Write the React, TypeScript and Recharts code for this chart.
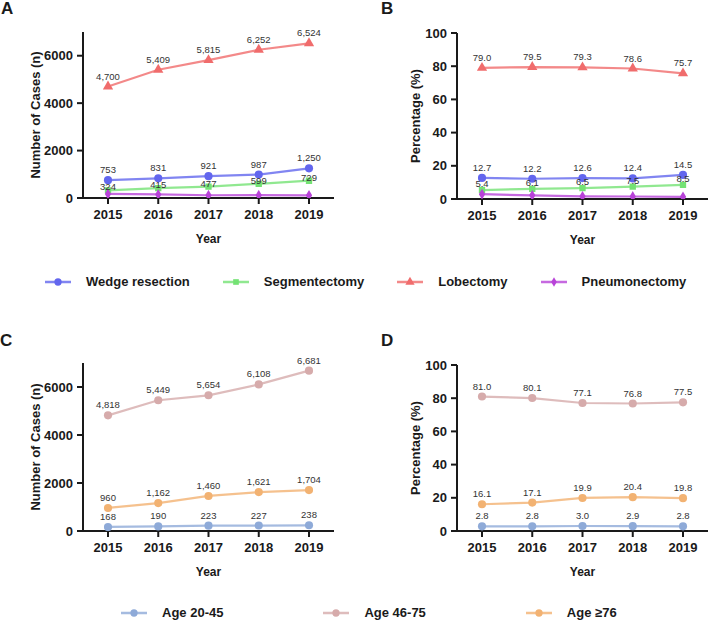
import React from "react"
import { LineChart, Line, XAxis, YAxis, LabelList, Symbols } from "recharts"

const years = ["2015", "2016", "2017", "2018", "2019"]

// surgical procedure, case counts
const wedgeCases = [753, 831, 921, 987, 1250]
const segmentCases = [324, 415, 477, 599, 729]
const lobeCases = [4700, 5409, 5815, 6252, 6524]
const pneumoCases = [172, 150, 117, 119, 112]

// surgical procedure, share of all cases
const wedgePct = [12.7, 12.2, 12.6, 12.4, 14.5]
const segmentPct = [5.4, 6.1, 6.5, 7.5, 8.5]
const lobePct = [79.0, 79.5, 79.3, 78.6, 75.7]
const pneumoPct = [2.9, 2.2, 1.6, 1.5, 1.3]

// age groups, case counts
const age2045Cases = [168, 190, 223, 227, 238]
const age4675Cases = [4818, 5449, 5654, 6108, 6681]
const age76Cases = [960, 1162, 1460, 1621, 1704]

// age groups, share of all cases
const age2045Pct = [2.8, 2.8, 3.0, 2.9, 2.8]
const age4675Pct = [81.0, 80.1, 77.1, 76.8, 77.5]
const age76Pct = [16.1, 17.1, 19.9, 20.4, 19.8]

const caseTicks = [0, 2000, 4000, 6000]
const pctTicks = [0, 20, 40, 60, 80, 100]

const FONT = "Arial, 'Liberation Sans', Helvetica, sans-serif"
const INK = "#1a1a1a"

type SeriesDef = {
  key: string
  name: string
  color: string
  marker: "circle" | "square" | "triangle" | "diamond"
  labels: boolean
  // gap between point and value label: [count panel, percent panel]
  labelGap?: [number, number]
}

const procSeries: SeriesDef[] = [
  { key: "wedge", name: "Wedge resection", color: "#6266ee", marker: "circle", labels: true },
  { key: "segment", name: "Segmentectomy", color: "#74e274", marker: "square", labels: true, labelGap: [0, 3] },
  { key: "lobe", name: "Lobectomy", color: "#f06c6c", marker: "triangle", labels: true },
  { key: "pneumo", name: "Pneumonectomy", color: "#b843d8", marker: "diamond", labels: false },
]

const ageSeries: SeriesDef[] = [
  { key: "young", name: "Age 20-45", color: "#8eaad8", marker: "circle", labels: true },
  { key: "middle", name: "Age 46-75", color: "#d6abab", marker: "circle", labels: true },
  { key: "old", name: "Age \u226576", color: "#f2b272", marker: "circle", labels: true },
]

const build = (cols: Record<string, number[]>) =>
  years.map((year, i) => {
    const row: Record<string, string | number> = { year }
    Object.keys(cols).forEach((k) => (row[k] = cols[k][i]))
    return row
  })

const procCasesData = build({ wedge: wedgeCases, segment: segmentCases, lobe: lobeCases, pneumo: pneumoCases })
const procPctData = build({ wedge: wedgePct, segment: segmentPct, lobe: lobePct, pneumo: pneumoPct })
const ageCasesData = build({ young: age2045Cases, middle: age4675Cases, old: age76Cases })
const agePctData = build({ young: age2045Pct, middle: age4675Pct, old: age76Pct })

const markerSize: Record<string, number> = { circle: 52, square: 40, triangle: 46, diamond: 34 }

const makeDot = (s: SeriesDef) => (props: any) => (
  <Symbols
    key={`${s.key}-${props.index}`}
    cx={props.cx}
    cy={props.cy}
    type={s.marker}
    size={markerSize[s.marker]}
    fill={s.color}
  />
)

const countFmt = (v: any) => Number(v).toLocaleString("en-US")
const pctFmt = (v: any) => Number(v).toFixed(1)

const AxisTitle = ({ text, x }: { text: string; x: number }) => (props: any) => {
  const vb = props.viewBox || {}
  const cy = vb.y + vb.height / 2
  return (
    <text
      x={x}
      y={cy}
      transform={`rotate(-90 ${x} ${cy})`}
      textAnchor="middle"
      dominantBaseline="central"
      fontFamily={FONT}
      fontSize={13}
      fontWeight="bold"
      fill={INK}
    >
      {text}
    </text>
  )
}

type PanelProps = {
  data: Record<string, string | number>[]
  series: SeriesDef[]
  domainMax: number
  ticks: number[]
  yTitle: string
  yTitleX: number
  yAxisWidth: number
  width: number
  left: number
  top: number
  plotHeight: number
  pct: boolean
}

function Panel({ data, series, domainMax, ticks, yTitle, yTitleX, yAxisWidth, width, left, top, plotHeight, pct }: PanelProps) {
  const height = 32 + plotHeight + 45 + 4
  return (
    <div style={{ position: "absolute", left, top }}>
      <LineChart width={width} height={height} data={data} margin={{ top: 32, right: width - yAxisWidth - 251, left: 0, bottom: 4 }}>
        <XAxis
          dataKey="year"
          padding={{ left: 25, right: 25 }}
          height={45}
          axisLine={{ stroke: INK, strokeWidth: 2 }}
          tickLine={{ stroke: INK, strokeWidth: 2 }}
          tickSize={6}
          tickMargin={6}
          tick={{ fontFamily: FONT, fontSize: 13, fontWeight: "bold", fill: INK }}
          label={{ value: "Year", position: "insideBottom", offset: 0, fontFamily: FONT, fontSize: 12, fontWeight: "bold", fill: INK }}
        />
        <YAxis
          width={yAxisWidth}
          domain={[0, domainMax]}
          ticks={ticks}
          interval={0}
          allowDataOverflow
          axisLine={{ stroke: INK, strokeWidth: 2 }}
          tickLine={{ stroke: INK, strokeWidth: 2 }}
          tickSize={6}
          tickMargin={4}
          tick={{ fontFamily: FONT, fontSize: 13, fontWeight: "bold", fill: INK }}
          label={AxisTitle({ text: yTitle, x: yTitleX })}
        />
        {series.map((s) => (
          <Line
            key={s.key}
            dataKey={s.key}
            name={s.name}
            type="linear"
            stroke={s.color}
            strokeWidth={2.2}
            strokeOpacity={0.8}
            dot={makeDot(s)}
            activeDot={false}
            isAnimationActive={false}
          />
        ))}
        {/* value labels go in a second pass so they sit above every line */}
        {series
          .filter((s) => s.labels)
          .map((s) => (
            <Line
              key={`${s.key}-labels`}
              dataKey={s.key}
              legendType="none"
              stroke="none"
              dot={false}
              activeDot={false}
              isAnimationActive={false}
            >
              <LabelList
                dataKey={s.key}
                position="top"
                offset={s.labelGap ? s.labelGap[pct ? 1 : 0] : 7}
                formatter={pct ? pctFmt : countFmt}
                style={{ fontFamily: FONT, fontSize: 9.5, fill: "#333" }}
              />
            </Line>
          ))}
      </LineChart>
    </div>
  )
}

function LegendRow({ series, left, top, gap }: { series: SeriesDef[]; left: number; top: number; gap: number }) {
  return (
    <div style={{ position: "absolute", left, top, display: "flex", alignItems: "center", gap, fontFamily: FONT, fontSize: 13, fontWeight: "bold", color: INK }}>
      {series.map((s) => (
        <div key={s.key} style={{ display: "flex", alignItems: "center", gap: 15 }}>
          <svg width={26} height={12}>
            <line x1={0} y1={6} x2={26} y2={6} stroke={s.color} strokeWidth={2.5} strokeOpacity={0.8} />
            <Symbols cx={13} cy={6} type={s.marker} size={markerSize[s.marker] * 0.8} fill={s.color} />
          </svg>
          <span style={{ lineHeight: "16px", whiteSpace: "nowrap" }}>{s.name}</span>
        </div>
      ))}
    </div>
  )
}

const panelLetter = (letter: string, left: number, top: number) => (
  <div style={{ position: "absolute", left, top, fontFamily: FONT, fontSize: 17, fontWeight: "bold", color: INK, lineHeight: "17px" }}>
    {letter}
  </div>
)

export default function App() {
  return (
    <div style={{ position: "absolute", left: 0, top: 0, width: 709, height: 622, background: "#fff", overflow: "hidden" }}>
      {panelLetter("A", 1, 0)}
      {panelLetter("B", 381, 0)}
      {panelLetter("C", 0, 332)}
      {panelLetter("D", 381, 332)}

      <Panel data={procCasesData} series={procSeries} domainMax={7000} ticks={caseTicks} yTitle="Number of Cases (n)" yTitleX={35} yAxisWidth={83} width={354} left={0} top={0} plotHeight={166} pct={false} />
      <Panel data={procPctData} series={procSeries} domainMax={100} ticks={pctTicks} yTitle="Percentage (%)" yTitleX={55} yAxisWidth={97} width={349} left={360} top={1} plotHeight={166} pct />
      <Panel data={ageCasesData} series={ageSeries} domainMax={7000} ticks={caseTicks} yTitle="Number of Cases (n)" yTitleX={35} yAxisWidth={83} width={354} left={0} top={331} plotHeight={168} pct={false} />
      <Panel data={agePctData} series={ageSeries} domainMax={100} ticks={pctTicks} yTitle="Percentage (%)" yTitleX={55} yAxisWidth={97} width={349} left={360} top={333} plotHeight={166} pct />

      <LegendRow series={procSeries} left={45} top={274} gap={33} />
      <LegendRow series={ageSeries} left={121} top={605} gap={100} />
    </div>
  )
}
